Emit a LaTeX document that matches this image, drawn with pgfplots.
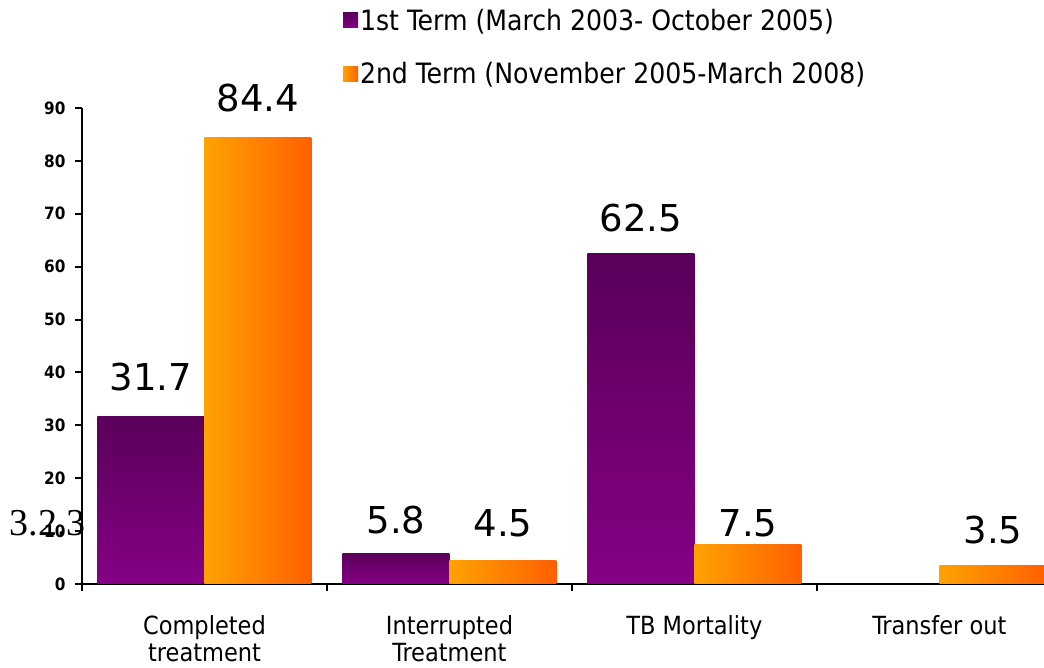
\documentclass[border=0pt]{standalone}
\usepackage{pgfplots}
\pgfplotsset{compat=1.18}
\usepackage{fontspec}
\setmainfont{DejaVu Sans Condensed}
\newfontfamily\dv{DejaVu Sans}
\newfontfamily\cond{DejaVu Sans Condensed}
\newfontfamily\tms{Liberation Serif}
\definecolor{pdark}{HTML}{5A005A}
\definecolor{plight}{HTML}{850085}
\definecolor{oleft}{HTML}{FFA200}
\definecolor{oright}{HTML}{FF6000}
\pgfplotsset{
  pbar/.style={draw=none, top color=pdark, bottom color=plight, bar shift=-53.5pt},
  obar/.style={draw=none, left color=oleft, right color=oright, bar shift=53.5pt},
  lab/.style={every node near coord/.append style={yshift=#1}},
}
\begin{document}
\begin{tikzpicture}
\begin{axis}[
  name=ax,
  scale only axis,
  width=962pt, height=476pt,
  xmin=-0.5, xmax=3.427,
  ymin=0, ymax=90,
  clip=false,
  axis x line*=bottom,
  axis y line*=left,
  axis line style={line width=2.5pt, -},
  ytick={0,10,...,90},
  xtick={-0.5,0.5,1.5,2.5},
  xticklabels={},
  tick style={line width=2pt, black},
  major tick length=7pt,
  tick align=outside,
  yticklabel style={font=\bfseries\fontsize{17}{18}\selectfont, xshift=-6pt},
  /pgf/number format/assume math mode=true,
  extra x ticks={0,1,2,3},
  extra x tick labels={Completed\\treatment, Interrupted\\Treatment, TB Mortality, Transfer out},
  extra x tick style={major tick length=0pt, tick style={draw=none},
    ticklabel style={font=\cond\fontsize{25}{27}\selectfont, align=center, anchor=north, yshift=-28pt}},
  ybar,
  bar width=107pt,
  nodes near coords,
  every node near coord/.append style={font=\dv\fontsize{37}{40}\selectfont, anchor=south},
  legend style={at={(0.268,1.217)}, anchor=north west, draw=none, fill=none,
    font=\cond\fontsize{28}{30}\selectfont, row sep=27pt},
  legend cell align=left,
  legend image code/.code={\fill[#1] (0pt,-7.5pt) rectangle (15pt,7.5pt);},
]
\addplot[pbar, lab=22pt] coordinates {(0,31.7)};
\addlegendentry{1st Term (March 2003- October 2005)}
\addplot[obar, lab=22pt] coordinates {(0,84.4)};
\addlegendentry{2nd Term (November 2005-March 2008)}
\addplot[pbar, lab=16pt, forget plot] coordinates {(1,5.8)};
\addplot[pbar, lab=18pt, forget plot] coordinates {(2,62.5)};
\addplot[obar, lab=20pt, forget plot] coordinates {(1,4.5)};
\addplot[obar, lab=4pt, forget plot] coordinates {(2,7.5)};
\addplot[obar, lab=18pt, forget plot] coordinates {(3,3.5)};
\end{axis}
\node[font=\tms\fontsize{38}{40}\selectfont] at ([shift={(-34pt,61pt)}]ax.south west) {3.2.3};
\pgfresetboundingbox
\path ([shift={(-82pt,-84pt)}]ax.south west) rectangle ([shift={(962pt,584pt)}]ax.south west);
\end{tikzpicture}
\end{document}
